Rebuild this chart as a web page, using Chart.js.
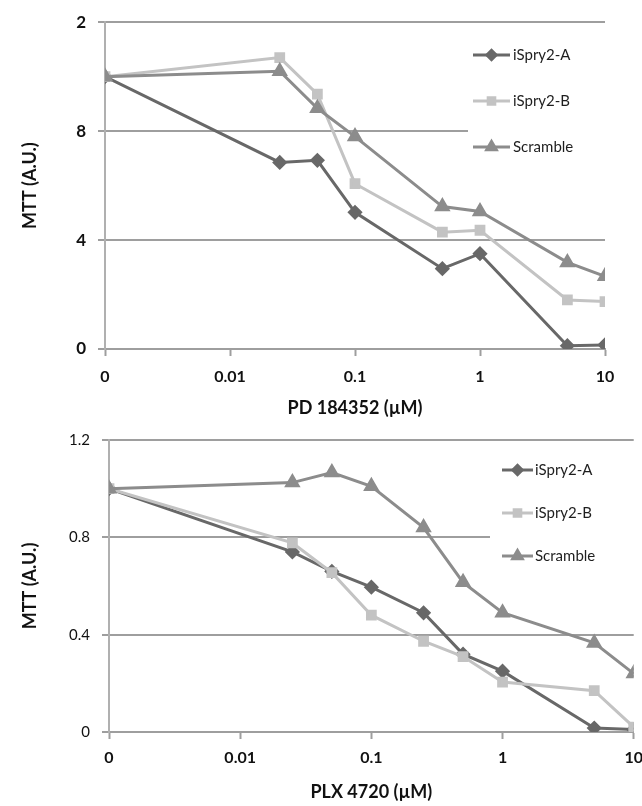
<!DOCTYPE html>
<html><head><meta charset="utf-8">
<script src="https://cdn.jsdelivr.net/npm/chart.js@4.4.1/dist/chart.umd.min.js"></script>
<style>
html,body{margin:0;padding:0;background:#fff;overflow:hidden;width:642px;height:806px;position:relative;}
#c1{position:absolute;left:0;top:0;}
#c2{position:absolute;left:0;top:419px;}
</style></head><body>
<canvas id="c1" width="642" height="420"></canvas>
<canvas id="c2" width="652" height="387"></canvas>
<script>
// ---------- data ----------
const seriesNames = ['iSpry2-A', 'iSpry2-B', 'Scramble'];
const xTickValues = [-3, -2, -1, 0, 1];
const xTickLabels = ['0', '0.01', '0.1', '1', '10'];

// top panel: PD 184352
const pdConc = [0, 0.025, 0.05, 0.1, 0.5, 1, 5, 10];
const pdA = [10, 6.85, 6.93, 5.02, 2.95, 3.5, 0.12, 0.15];
const pdB = [10, 10.7, 9.36, 6.07, 4.29, 4.36, 1.8, 1.74];
const pdScramble = [10, 10.2, 8.84, 7.8, 5.23, 5.05, 3.18, 2.67];
const pdYTicks = [0, 4, 8, 12];
const pdYLabels = ['0', '4', '8', '2'];

// bottom panel: PLX 4720
const plxConc = [0, 0.025, 0.05, 0.1, 0.25, 0.5, 1, 5, 10];
const plxA = [1.0, 0.74, 0.66, 0.595, 0.49, 0.32, 0.25, 0.016, 0.01];
const plxB = [1.0, 0.777, 0.655, 0.48, 0.373, 0.31, 0.205, 0.17, 0.02];
const plxScramble = [1.0, 1.025, 1.066, 1.01, 0.84, 0.615, 0.49, 0.366, 0.24];
const plxYTicks = [0, 0.4, 0.8, 1.2];
const plxYLabels = ['0', '0.4', '0.8', '1.2'];

// ---------- styling ----------
const FONT = 'Lato, "Open Sans", "Liberation Sans", sans-serif';
const GRID = '#9e9e9e';
const styles = [
  {color: '#686868', point: 'rectRot', r: 5.5, order: 2},
  {color: '#c3c3c3', point: 'rect', r: 5.5, order: 1},
  {color: '#8c8c8c', point: 'triangle', r: 6.5, order: 0}
];
const toPos = c => c === 0 ? -3 : Math.log10(c);

function makeDatasets(conc, seriesList) {
  return seriesList.map((vals, i) => ({
    label: seriesNames[i],
    data: conc.map((c, j) => ({x: toPos(c), y: vals[j]})),
    borderColor: styles[i].color,
    backgroundColor: styles[i].color,
    pointBackgroundColor: styles[i].color,
    pointBorderColor: styles[i].color,
    pointStyle: styles[i].point,
    pointRadius: styles[i].r,
    borderWidth: 3,
    order: styles[i].order,
    tension: 0
  }));
}

const overlayLegend = {
  id: 'overlayLegend',
  afterDraw(chart, args, o) {
    const ctx = chart.ctx;
    ctx.save();
    ctx.fillStyle = '#fff';
    ctx.fillRect(o.box[0], o.box[1], o.box[2], o.box[3]);
    chart.data.datasets.forEach((ds, i) => {
      const y = o.firstY + i * o.gap;
      ctx.strokeStyle = ds.borderColor;
      ctx.lineWidth = 3;
      ctx.beginPath(); ctx.moveTo(o.x0, y); ctx.lineTo(o.x1, y); ctx.stroke();
      ctx.fillStyle = ds.pointBackgroundColor;
      ctx.strokeStyle = ds.pointBorderColor;
      Chart.helpers.drawPoint(ctx, {pointStyle: ds.pointStyle, radius: ds.pointRadius * 0.85, borderWidth: 1, rotation: 0}, (o.x0 + o.x1) / 2, y);
      ctx.fillStyle = '#1e1e1e';
      ctx.font = o.font;
      ctx.textBaseline = 'middle';
      ctx.textAlign = 'left';
      ctx.fillText(ds.label, o.textX, y);
    });
    ctx.restore();
  }
};

function makeChart(id, conc, seriesList, yTicks, yLabels, yMax, xTitle, cfg) {
  return new Chart(document.getElementById(id), {
    type: 'line',
    data: {datasets: makeDatasets(conc, seriesList)},
    plugins: [overlayLegend],
    options: {
      responsive: false,
      animation: false,
      devicePixelRatio: 1,
      layout: {padding: cfg.padding},
      plugins: {
        legend: {display: false},
        tooltip: {enabled: false},
        overlayLegend: cfg.legend
      },
      scales: {
        x: {
          type: 'linear', min: -3, max: 1,
          afterBuildTicks: s => { s.ticks = xTickValues.map(v => ({value: v})); },
          afterFit: s => { s.height = cfg.xHeight; },
          ticks: {
            callback: (v, i) => xTickLabels[i],
            color: '#111',
            font: {family: FONT, size: 16, weight: 'bold'},
            padding: cfg.xTickPad,
            maxRotation: 0, autoSkip: false
          },
          grid: {drawOnChartArea: false, drawTicks: true, tickLength: 7, tickColor: GRID, tickWidth: 2},
          border: {display: true, color: GRID, width: 2},
          title: {display: true, text: xTitle, color: '#111',
                  font: {family: FONT, size: 18, weight: 'bold'}, padding: {top: 2, bottom: cfg.xTitlePadB}}
        },
        y: {
          type: 'linear', min: 0, max: yMax,
          afterBuildTicks: s => { s.ticks = yTicks.map(v => ({value: v})); },
          afterFit: s => { s.width = cfg.yWidth; },
          ticks: {
            callback: (v, i) => yLabels[i],
            color: '#111',
            font: cfg.yTickFont,
            padding: 12
          },
          grid: {color: GRID, lineWidth: 2, drawTicks: true, tickLength: 7},
          border: {display: true, color: '#b0b0b0', width: 2},
          title: {display: true, text: 'MTT (A.U.)', color: '#111',
                  font: {family: FONT, size: 18, weight: 'bold'}, padding: {top: 9, bottom: 4}}
        }
      }
    }
  });
}

makeChart('c1', pdConc, [pdA, pdB, pdScramble], pdYTicks, pdYLabels, 12, 'PD 184352 (\u00b5M)', {
  padding: {left: 10, right: 37, top: 18, bottom: 0},
  xHeight: 71, xTickPad: 11, xTitlePadB: 1, yWidth: 95,
  yTickFont: {family: FONT, size: 17, weight: 'bold'},
  legend: {box: [468, 36, 174, 128], x0: 473, x1: 510, firstY: 55, gap: 46, textX: 513,
           font: '15px ' + FONT}
});

makeChart('c2', plxConc, [plxA, plxB, plxScramble], plxYTicks, plxYLabels, 1.2, 'PLX 4720 (\u00b5M)', {
  padding: {left: 10, right: 15, top: 18, bottom: 0},
  xHeight: 74, xTickPad: 9, xTitlePadB: 3, yWidth: 99,
  yTickFont: {family: FONT, size: 15, weight: 'normal'},
  legend: {box: [490, 31, 162, 128], x0: 502, x1: 533, firstY: 51, gap: 43, textX: 535,
           font: '15px ' + FONT}
});
</script>
</body></html>
